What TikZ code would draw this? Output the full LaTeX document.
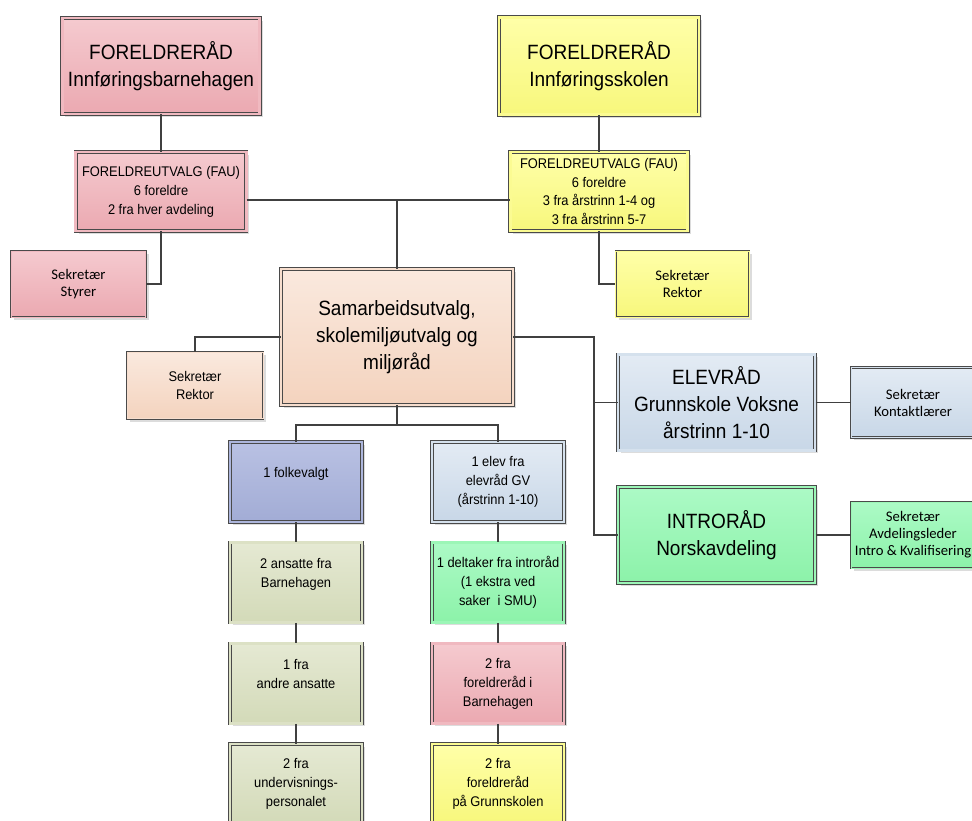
\documentclass[tikz,border=0pt]{standalone}
\usepackage{fontspec}
\setmainfont{Liberation Sans}[FakeStretch=0.92]
\newfontfamily\calfont{Carlito}
\usetikzlibrary{shadows,calc}
\definecolor{boxline}{HTML}{4A4A4A}
\definecolor{linecol}{HTML}{404040}
\definecolor{rosaT}{HTML}{F5CACF}\definecolor{rosaB}{HTML}{EBA9B1}
\definecolor{gulT}{HTML}{FFFFA8}\definecolor{gulB}{HTML}{F7F77C}
\definecolor{ferskenT}{HTML}{FAE9DE}\definecolor{ferskenB}{HTML}{F4D3BE}
\definecolor{blaaT}{HTML}{E3EBF4}\definecolor{blaaB}{HTML}{C8D7E7}
\definecolor{lillaT}{HTML}{B9C1E3}\definecolor{lillaB}{HTML}{A2ACD5}
\definecolor{olivenT}{HTML}{E5E9D3}\definecolor{olivenB}{HTML}{D3DAB8}
\definecolor{groennT}{HTML}{ACFAC6}\definecolor{groennB}{HTML}{8CF2A9}
\tikzset{
  skygge/.style={drop shadow={shadow xshift=2.2pt,shadow yshift=-2.2pt,opacity=.28}},
  raad/.style={draw=boxline,line width=.5pt,double distance=1.8pt,skygge,
    align=center,inner sep=0pt},
  sek/.style={draw=boxline,line width=.6pt,skygge,align=center,inner sep=0pt,
    font=\calfont\fontsize{11}{12.8}\selectfont},
  stor/.style={font=\fontsize{15.5}{20}\selectfont},
  liten/.style={font=\fontsize{10.5}{14.2}\selectfont},
  kol/.style={raad,liten,minimum width=99pt,minimum height=60pt},
  rosa/.style={top color=rosaT,bottom color=rosaB,double=rosaB!50!rosaT},
  gul/.style={top color=gulT,bottom color=gulB,double=gulB!50!gulT},
  fersken/.style={top color=ferskenT,bottom color=ferskenB,double=ferskenB!50!ferskenT},
  blaa/.style={top color=blaaT,bottom color=blaaB,double=blaaB!50!blaaT},
  lilla/.style={top color=lillaT,bottom color=lillaB,double=lillaB!50!lillaT},
  oliven/.style={top color=olivenT,bottom color=olivenB,double=olivenB!50!olivenT},
  groenn/.style={top color=groennT,bottom color=groennB,double=groennB!50!groennT},
  lnk/.style={draw=linecol,line width=1.3pt}
}
\begin{document}
\begin{tikzpicture}[x=0.75pt,y=-0.75pt]
\useasboundingbox (0,0) rectangle (972,821);
% foreldreraad og FAU
\node[raad,rosa,stor,minimum width=148pt,minimum height=72pt] (frBhg) at (161,66) {FORELDRERÅD\\Innføringsbarnehagen};
\node[raad,gul,stor,minimum width=150pt,minimum height=73pt] (frSkole) at (599,66) {FORELDRERÅD\\Innføringsskolen};
\node[raad,rosa,liten,minimum width=128pt,minimum height=59pt] (fauBhg) at (161,191.5) {FORELDREUTVALG (FAU)\\6 foreldre\\2 fra hver avdeling};
\node[raad,gul,liten,minimum width=133pt,minimum height=59pt] (fauSkole) at (599,191.5) {FORELDREUTVALG (FAU)\\6 foreldre\\3 fra årstrinn 1-4 og\\3 fra årstrinn 5-7};
\node[sek,rosa,minimum width=101pt,minimum height=49.5pt] (sekStyrer) at (78.5,284) {Sekretær\\Styrer};
\node[sek,gul,minimum width=100pt,minimum height=49.5pt] (sekRektorS) at (682.5,284) {Sekretær\\Rektor};
% SU / SMU
\node[raad,fersken,stor,minimum width=174pt,minimum height=102pt] (samarb) at (397,337) {Samarbeidsutvalg,\\skolemiljøutvalg og\\miljøråd};
\node[sek,fersken,liten,minimum width=102pt,minimum height=50pt] (sekRektorP) at (195,385.5) {Sekretær\\Rektor};
\node[raad,blaa,stor,minimum width=148pt,minimum height=72pt] (elevrad) at (716.5,402.5) {ELEVRÅD\\Grunnskole Voksne\\årstrinn 1-10};
\node[raad,groenn,stor,minimum width=148pt,minimum height=72pt] (introrad) at (716.5,535) {INTRORÅD\\Norskavdeling};
\node[sek,blaa,minimum width=93pt,minimum height=52.5pt] (sekKontakt) at (913,402.5) {Sekretær\\Kontaktlærer};
\node[sek,groenn,minimum width=93pt,minimum height=49.5pt] (sekAvd) at (913,535) {Sekretær\\Avdelingsleder\\\makebox[0pt]{Intro \& Kvalifisering}};
% medlemmer
\node[kol,lilla] (folkevalgt) at (296,482) {1 folkevalgt\\\mbox{}};
\node[kol,oliven] (ansatte) at (296,582.5) {2 ansatte fra\\Barnehagen\\\mbox{}};
\node[kol,oliven] (andre) at (296,683.5) {1 fra\\andre ansatte\\\mbox{}};
\node[kol,oliven] (undervisning) at (296,784) {2 fra\\undervisnings-\\personalet};
\node[kol,blaa] (elev) at (498,482) {1 elev fra\\elevråd GV\\(årstrinn 1-10)};
\node[kol,groenn] (deltaker) at (498,582.5) {1 deltaker fra introråd\\(1 ekstra ved\\saker\ \ i SMU)};
\node[kol,rosa] (forBhg) at (498,683.5) {2 fra\\foreldreråd i\\Barnehagen};
\node[kol,gul] (forSkole) at (498,784) {2 fra\\foreldreråd\\på Grunnskolen};
% linjer
\coordinate (fauJ) at (397,200);
\coordinate (bus) at (594,337);
\coordinate (kolJ) at (397,425);
\draw[lnk] (frBhg.south) -- (fauBhg.north);
\draw[lnk] (frSkole.south) -- (fauSkole.north);
\draw[lnk] (fauBhg.east |- fauJ) -- (fauSkole.west |- fauJ);
\draw[lnk] (fauJ) -- (samarb.north);
\draw[lnk] (fauBhg.south) |- (sekStyrer.east);
\draw[lnk] (fauSkole.south) |- (sekRektorS.west);
\draw[lnk] (samarb.west) -| (sekRektorP.north);
\draw[lnk] (samarb.east) -| (bus |- introrad.west) -- (introrad.west);
\draw[lnk] (bus |- elevrad.west) -- (elevrad.west);
\draw[lnk] (elevrad.east) -- (sekKontakt.west);
\draw[lnk] (introrad.east) -- (sekAvd.west);
\draw[lnk] (samarb.south) -- (kolJ);
\draw[lnk] (folkevalgt.north) |- (elev.north |- kolJ) -- (elev.north);
\foreach \a/\b in {folkevalgt/ansatte,ansatte/andre,andre/undervisning,elev/deltaker,deltaker/forBhg,forBhg/forSkole}
  \draw[lnk] (\a.south) -- (\b.north);
\end{tikzpicture}
\end{document}
